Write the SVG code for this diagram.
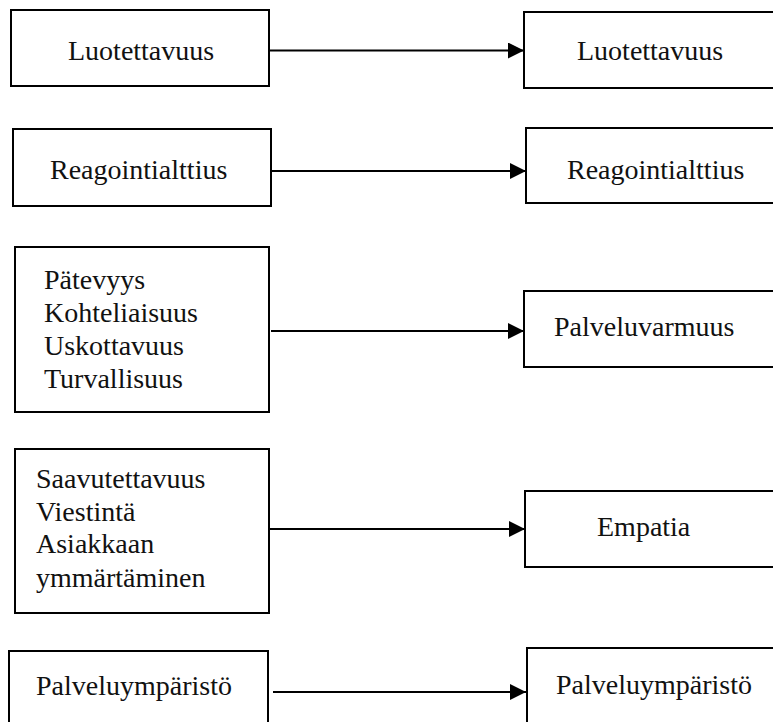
<svg xmlns="http://www.w3.org/2000/svg" width="773" height="722" viewBox="0 0 773 722">
  <style>
    .box { fill: #ffffff; stroke: #000000; stroke-width: 2; }
    .lbl { font-size: 28px; fill: #111111; }
    .conn { stroke: #000000; stroke-width: 2; fill: none; }
  </style>
  <defs>
    <marker id="arrow" viewBox="0 0 10 10" refX="10" refY="5" markerWidth="8.5" markerHeight="8" markerUnits="strokeWidth" orient="auto">
      <path d="M0,0 L10,5 L0,10 z" fill="#000000"/>
    </marker>
  </defs>
  <rect width="773" height="722" fill="#ffffff"/>

  <!-- connectors -->
  <g id="connectors">
    <line class="conn" x1="270" y1="50.5" x2="524" y2="50.5" marker-end="url(#arrow)"/>
    <line class="conn" x1="272" y1="171" x2="526" y2="171" marker-end="url(#arrow)"/>
    <line class="conn" x1="271" y1="331" x2="524" y2="331" marker-end="url(#arrow)"/>
    <line class="conn" x1="270" y1="529" x2="525" y2="529" marker-end="url(#arrow)"/>
    <line class="conn" x1="273" y1="692" x2="526" y2="692" marker-end="url(#arrow)"/>
  </g>

  <!-- left column -->
  <g id="luotettavuus-in">
    <rect class="box" x="11" y="10" width="258" height="76"/>
    <text class="lbl" style="font-family: 'Liberation Serif'" x="68" y="60">Luotettavuus</text>
  </g>
  <g id="reagointialttius-in">
    <rect class="box" x="13" y="129" width="258" height="77"/>
    <text class="lbl" style="font-family: 'Liberation Serif'" x="50" y="179">Reagointialttius</text>
  </g>
  <g id="palveluvarmuus-in">
    <rect class="box" x="15" y="247" width="254" height="165"/>
    <text class="lbl" style="font-family: 'Liberation Serif'" x="44" y="289">Pätevyys</text>
    <text class="lbl" style="font-family: 'Liberation Serif'" x="44" y="322">Kohteliaisuus</text>
    <text class="lbl" style="font-family: 'Liberation Serif'" x="44" y="355">Uskottavuus</text>
    <text class="lbl" style="font-family: 'Liberation Serif'" x="44" y="388">Turvallisuus</text>
  </g>
  <g id="empatia-in">
    <rect class="box" x="15" y="449" width="254" height="164"/>
    <text class="lbl" style="font-family: 'Liberation Serif'" x="36" y="488">Saavutettavuus</text>
    <text class="lbl" style="font-family: 'Liberation Serif'" x="36" y="521">Viestintä</text>
    <text class="lbl" style="font-family: 'Liberation Serif'" x="36" y="553">Asiakkaan</text>
    <text class="lbl" style="font-family: 'Liberation Serif'" x="36" y="587">ymmärtäminen</text>
  </g>
  <g id="palveluymparisto-in">
    <rect class="box" x="9" y="651" width="259" height="80"/>
    <text class="lbl" style="font-family: 'Liberation Serif'" x="36" y="695">Palveluympäristö</text>
  </g>

  <!-- right column -->
  <g id="luotettavuus-out">
    <rect class="box" x="524" y="12" width="260" height="76"/>
    <text class="lbl" style="font-family: 'Liberation Serif'" x="577" y="60">Luotettavuus</text>
  </g>
  <g id="reagointialttius-out">
    <rect class="box" x="526" y="128" width="260" height="75"/>
    <text class="lbl" style="font-family: 'Liberation Serif'" x="567" y="179">Reagointialttius</text>
  </g>
  <g id="palveluvarmuus-out">
    <rect class="box" x="524" y="291" width="260" height="76"/>
    <text class="lbl" style="font-family: 'Liberation Serif'" x="554" y="336">Palveluvarmuus</text>
  </g>
  <g id="empatia-out">
    <rect class="box" x="525" y="491" width="260" height="76"/>
    <text class="lbl" style="font-family: 'Liberation Serif'" x="597" y="536">Empatia</text>
  </g>
  <g id="palveluymparisto-out">
    <rect class="box" x="527" y="648" width="260" height="85"/>
    <text class="lbl" style="font-family: 'Liberation Serif'" x="556" y="694">Palveluympäristö</text>
  </g>
</svg>
